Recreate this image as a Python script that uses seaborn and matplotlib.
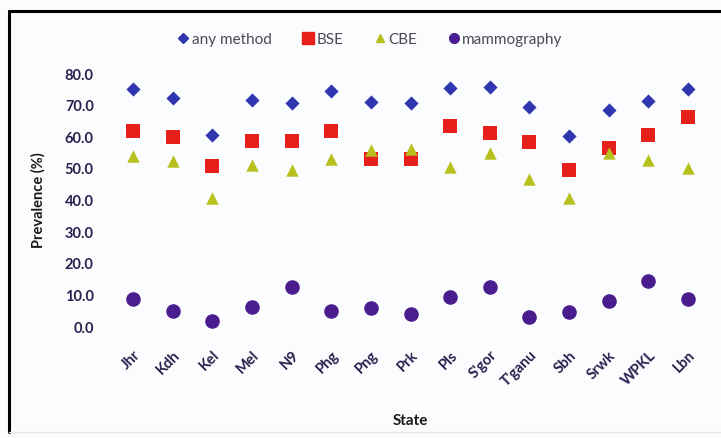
import matplotlib
matplotlib.use("Agg")
import matplotlib.pyplot as plt
import seaborn as sns
import pandas as pd
from matplotlib.lines import Line2D

states = ["Jhr", "Kdh", "Kel", "Mel", "N9", "Phg", "Png", "Prk", "Pls", "S'gor",
          "T'ganu", "Sbh", "Srwk", "WPKL", "Lbn"]
any_method = [75.0, 72.1, 60.5, 71.6, 70.5, 74.4, 70.7, 70.5, 75.3, 75.6, 69.3, 60.2, 68.2, 71.1, 75.0]
bse = [61.6, 59.7, 50.7, 58.6, 58.4, 61.6, 52.8, 52.8, 63.2, 61.1, 58.2, 49.3, 56.3, 60.5, 66.1]
cbe = [53.9, 52.1, 40.5, 51.0, 49.5, 52.9, 55.8, 56.0, 50.2, 54.7, 46.5, 40.5, 54.7, 52.4, 50.0]
mammography = [8.6, 4.7, 1.6, 6.1, 12.3, 4.7, 5.6, 3.7, 9.3, 12.3, 2.8, 4.4, 7.9, 14.4, 8.4]
series_names = ["any method", "BSE", "CBE", "mammography"]
y_ticks = [0, 10, 20, 30, 40, 50, 60, 70, 80]

colors = {"any method": "#2f36b0", "BSE": "#e8201c", "CBE": "#b8c01e", "mammography": "#4a1d8e"}
markers = {"any method": "D", "BSE": "s", "CBE": "^", "mammography": "o"}
sizes = {"any method": 52, "BSE": 110, "CBE": 80, "mammography": 110}

df = pd.DataFrame({
    "State": states * 4,
    "Prevalence": any_method + bse + cbe + mammography,
    "Method": sum([[n] * len(states) for n in series_names], []),
})
df["x"] = df["State"].map({s: i for i, s in enumerate(states)})

sns.set_theme(style="white")
plt.rcParams["font.family"] = ["Lato", "DejaVu Sans"]

bg = "#fbfcfd"
fig = plt.figure(figsize=(7.21, 4.39), dpi=100, facecolor=bg)
ax = fig.add_axes([0.157, 0.219, 0.8247, 0.6483], facecolor=bg)

for name in series_names:
    sub = df[df["Method"] == name]
    sns.scatterplot(data=sub, x="x", y="Prevalence", color=colors[name], marker=markers[name],
                    s=sizes[name], linewidth=0, ax=ax, clip_on=False, label=name, legend=False)

ax.set_xlim(-0.5, len(states) - 0.5)
ax.set_ylim(-5, 85)
ax.set_yticks(y_ticks)
ax.set_yticklabels([f"{v:.1f}" for v in y_ticks], fontsize=10.5, color="#2a1f4d", fontweight="bold")
ax.set_xticks(range(len(states)))
ax.set_xticklabels(states, rotation=45, ha="right", rotation_mode="anchor",
                   fontsize=10.5, color="#2a1f4d", fontweight="bold")
ax.tick_params(axis="both", length=0, pad=4)
ax.tick_params(axis="y", pad=14)
for sp in ax.spines.values():
    sp.set_visible(False)
ax.set_xlabel("State", fontsize=11, fontweight="bold", color="#1a1a1a", labelpad=18)
ax.set_ylabel("Prevalence (%)", fontsize=10.5, fontweight="bold", color="#1a1a1a", labelpad=14)

handles = [Line2D([], [], linestyle="none", marker=markers[n], color=colors[n],
                  markersize={"any method": 5, "BSE": 8, "CBE": 6, "mammography": 7}[n])
           for n in series_names]
fig.legend(handles, series_names, loc="center", bbox_to_anchor=(0.513, 0.909), ncol=4,
           frameon=False, prop={"size": 11}, handletextpad=0.15, columnspacing=2.0,
           handlelength=0.8, labelcolor="#4a4a55")

# outer frame
fig.add_artist(Line2D([9 / 721, 9 / 721], [1 - 12 / 439, 1 - 433 / 439], color="black", lw=2.2,
                      transform=fig.transFigure))
fig.add_artist(Line2D([9 / 721, 1.0], [1 - 12 / 439, 1 - 12 / 439], color="black", lw=2.2,
                      transform=fig.transFigure))
fig.add_artist(Line2D([9 / 721, 1.0], [1 - 433 / 439, 1 - 433 / 439], color="#e6e6ea", lw=1,
                      transform=fig.transFigure))

fig.savefig("out.png", dpi=100, facecolor=bg)
